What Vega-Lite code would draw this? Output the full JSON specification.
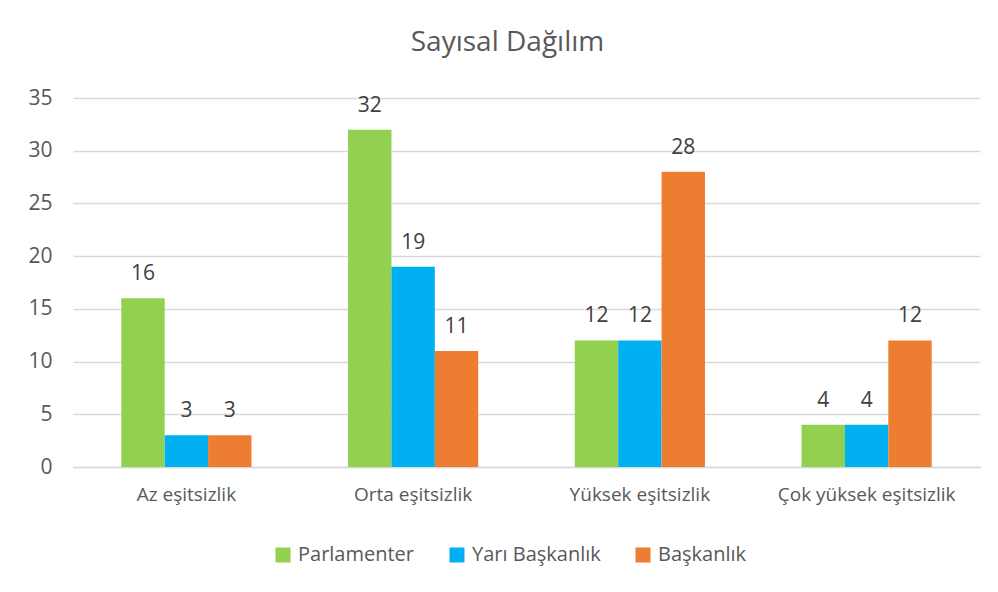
{
  "$schema": "https://vega.github.io/schema/vega-lite/v6.json",
  "width": 907,
  "height": 369,
  "autosize": {"type": "none"},
  "padding": {"left": 73, "top": 98, "right": 18, "bottom": 125},
  "background": "white",
  "title": {
    "text": "Sayısal Dağılım",
    "fontSize": 28,
    "fontWeight": "normal",
    "font": "Open Sans",
    "color": "#595959",
    "anchor": "middle",
    "offset": 30,
    "dx": -19
  },
  "data": {
    "values": [
      {"kategori": "Az eşitsizlik", "seri": "Parlamenter", "deger": 16},
      {"kategori": "Az eşitsizlik", "seri": "Yarı Başkanlık", "deger": 3},
      {"kategori": "Az eşitsizlik", "seri": "Başkanlık", "deger": 3},
      {"kategori": "Orta eşitsizlik", "seri": "Parlamenter", "deger": 32},
      {"kategori": "Orta eşitsizlik", "seri": "Yarı Başkanlık", "deger": 19},
      {"kategori": "Orta eşitsizlik", "seri": "Başkanlık", "deger": 11},
      {"kategori": "Yüksek eşitsizlik", "seri": "Parlamenter", "deger": 12},
      {"kategori": "Yüksek eşitsizlik", "seri": "Yarı Başkanlık", "deger": 12},
      {"kategori": "Yüksek eşitsizlik", "seri": "Başkanlık", "deger": 28},
      {"kategori": "Çok yüksek eşitsizlik", "seri": "Parlamenter", "deger": 4},
      {"kategori": "Çok yüksek eşitsizlik", "seri": "Yarı Başkanlık", "deger": 4},
      {"kategori": "Çok yüksek eşitsizlik", "seri": "Başkanlık", "deger": 12}
    ]
  },
  "encoding": {
    "x": {
      "field": "kategori",
      "type": "nominal",
      "sort": ["Az eşitsizlik", "Orta eşitsizlik", "Yüksek eşitsizlik", "Çok yüksek eşitsizlik"],
      "scale": {"paddingInner": 0.426, "paddingOuter": 0.213},
      "axis": {
        "title": null,
        "labelAngle": 0,
        "labelFont": "Open Sans",
        "labelFontSize": 19,
        "labelColor": "#595959",
        "labelPadding": 18,
        "ticks": false,
        "domain": true,
        "domainColor": "#D9D9D9",
        "domainWidth": 1.5,
        "grid": false
      }
    },
    "xOffset": {
      "field": "seri",
      "type": "nominal",
      "sort": ["Parlamenter", "Yarı Başkanlık", "Başkanlık"],
      "scale": {"paddingInner": 0, "paddingOuter": 0}
    },
    "y": {
      "field": "deger",
      "type": "quantitative",
      "scale": {"domain": [0, 35], "nice": false},
      "axis": {
        "title": null,
        "values": [0, 5, 10, 15, 20, 25, 30, 35],
        "labelFont": "Open Sans",
        "labelFontSize": 21,
        "labelColor": "#595959",
        "labelPadding": 21,
        "ticks": false,
        "domain": false,
        "grid": true,
        "gridColor": "#D9D9D9",
        "gridWidth": 1.5
      }
    }
  },
  "layer": [
    {
      "mark": {"type": "bar"},
      "encoding": {
        "color": {
          "field": "seri",
          "type": "nominal",
          "scale": {
            "domain": ["Parlamenter", "Yarı Başkanlık", "Başkanlık"],
            "range": ["#92D050", "#00B0F0", "#ED7D31"]
          },
          "legend": {
            "title": null,
            "orient": "none",
            "direction": "horizontal",
            "legendX": 200,
            "legendY": 447,
            "symbolType": "square",
            "symbolSize": 225,
            "symbolStrokeWidth": 0,
            "labelFont": "Open Sans",
            "labelFontSize": 20,
            "labelColor": "#595959",
            "columnPadding": 32,
            "labelOffset": 5
          }
        }
      }
    },
    {
      "mark": {
        "type": "text",
        "baseline": "alphabetic",
        "dy": -18,
        "font": "Open Sans",
        "fontSize": 21,
        "color": "#404040"
      },
      "encoding": {
        "text": {"field": "deger", "type": "quantitative"}
      }
    }
  ],
  "config": {
    "view": {"stroke": null}
  }
}
